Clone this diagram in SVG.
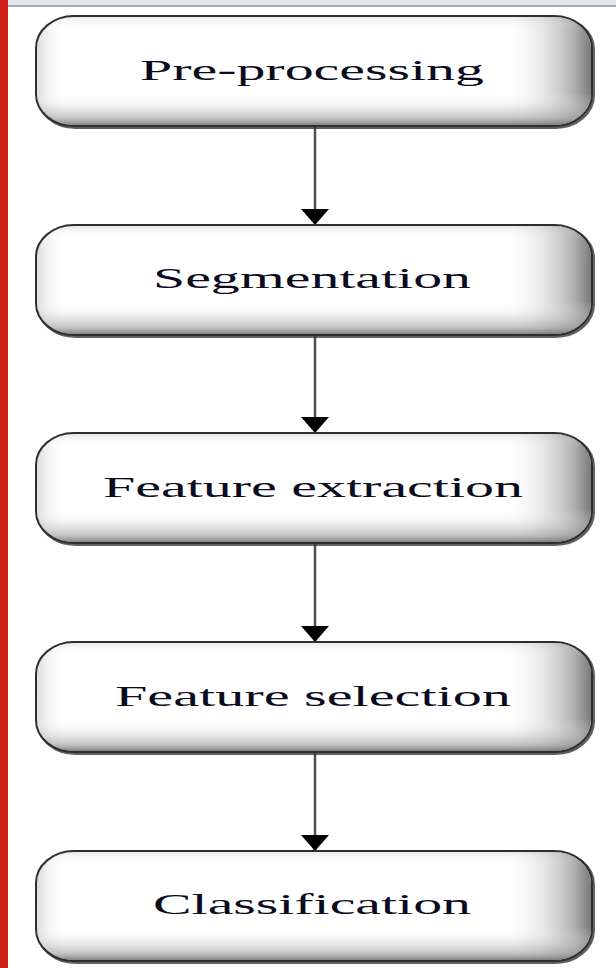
<svg xmlns="http://www.w3.org/2000/svg" width="616" height="968" viewBox="0 0 616 968">
  <style>
    .frame { fill: #ffffff; stroke: #2e2e2e; stroke-width: 2; }
    .shadow { fill: none; stroke: #3a3a3a; stroke-width: 3; opacity: 0.8; }
    .shade-x { fill: url(#shadeX); stroke: none; }
    .shade-y { fill: url(#shadeY); stroke: none; }
    .label { font-family: "Liberation Serif", "Times New Roman", serif; font-size: 30px; fill: #0b0b1e; }
    .link { stroke: #505050; stroke-width: 2.5; fill: none; }
  </style>
  <defs>
    <linearGradient id="shadeX" x1="0" y1="0" x2="1" y2="0">
      <stop offset="0" stop-color="#8a8a8a" stop-opacity="0.3"/>
      <stop offset="0.05" stop-color="#ffffff" stop-opacity="0"/>
      <stop offset="0.84" stop-color="#ffffff" stop-opacity="0"/>
      <stop offset="0.97" stop-color="#8c8c8c" stop-opacity="0.7"/>
      <stop offset="1" stop-color="#6a6a6a" stop-opacity="0.9"/>
    </linearGradient>
    <linearGradient id="shadeY" x1="0" y1="0" x2="0" y2="1">
      <stop offset="0" stop-color="#9a9a9a" stop-opacity="0.2"/>
      <stop offset="0.12" stop-color="#ffffff" stop-opacity="0"/>
      <stop offset="0.7" stop-color="#ffffff" stop-opacity="0"/>
      <stop offset="0.94" stop-color="#9a9a9a" stop-opacity="0.6"/>
      <stop offset="1" stop-color="#6e6e6e" stop-opacity="0.85"/>
    </linearGradient>
    <!-- wide, short arrowhead -->
    <marker id="head" viewBox="0 0 16 28" refX="16" refY="14" markerWidth="16" markerHeight="28" markerUnits="userSpaceOnUse" orient="auto">
      <path d="M0,0 L16,14 L0,28 Z" fill="#000000"/>
    </marker>
  </defs>

  <!-- page background and window chrome -->
  <rect x="0" y="0" width="616" height="968" fill="#ffffff"/>
  <rect x="0" y="0" width="616" height="5" fill="#dfe6ef"/>
  <rect x="0" y="5" width="616" height="2" fill="#a9a9a9"/>
  <rect x="0" y="0" width="8" height="968" fill="#cf2115"/>

  <!-- connectors -->
  <g id="connectors">
    <line class="link" x1="315" y1="127" x2="315" y2="225" marker-end="url(#head)"/>
    <line class="link" x1="315" y1="336" x2="315" y2="433" marker-end="url(#head)"/>
    <line class="link" x1="315" y1="544" x2="315" y2="642" marker-end="url(#head)"/>
    <line class="link" x1="315" y1="753" x2="315" y2="851" marker-end="url(#head)"/>
  </g>

  <g id="preprocessing">
    <rect class="shadow" x="37.5" y="17.5" width="556" height="110" rx="38" ry="32"/>
    <rect class="frame" x="36" y="16" width="556" height="110" rx="38" ry="32"/>
    <rect class="shade-x" x="37" y="17" width="554" height="108" rx="37" ry="31"/>
    <rect class="shade-y" x="37" y="17" width="554" height="108" rx="37" ry="31"/>
    <text class="label" x="140" y="80" textLength="344" lengthAdjust="spacingAndGlyphs">Pre-processing</text>
  </g>

  <g id="segmentation">
    <rect class="shadow" x="37.5" y="226.5" width="556" height="110" rx="38" ry="32"/>
    <rect class="frame" x="36" y="225" width="556" height="110" rx="38" ry="32"/>
    <rect class="shade-x" x="37" y="226" width="554" height="108" rx="37" ry="31"/>
    <rect class="shade-y" x="37" y="226" width="554" height="108" rx="37" ry="31"/>
    <text class="label" x="153" y="288" textLength="318" lengthAdjust="spacingAndGlyphs">Segmentation</text>
  </g>

  <g id="feature-extraction">
    <rect class="shadow" x="37.5" y="434.5" width="556" height="110" rx="38" ry="32"/>
    <rect class="frame" x="36" y="433" width="556" height="110" rx="38" ry="32"/>
    <rect class="shade-x" x="37" y="434" width="554" height="108" rx="37" ry="31"/>
    <rect class="shade-y" x="37" y="434" width="554" height="108" rx="37" ry="31"/>
    <text class="label" x="103" y="497" textLength="420" lengthAdjust="spacingAndGlyphs">Feature extraction</text>
  </g>

  <g id="feature-selection">
    <rect class="shadow" x="37.5" y="643.5" width="556" height="110" rx="38" ry="32"/>
    <rect class="frame" x="36" y="642" width="556" height="110" rx="38" ry="32"/>
    <rect class="shade-x" x="37" y="643" width="554" height="108" rx="37" ry="31"/>
    <rect class="shade-y" x="37" y="643" width="554" height="108" rx="37" ry="31"/>
    <text class="label" x="115" y="706" textLength="396" lengthAdjust="spacingAndGlyphs">Feature selection</text>
  </g>

  <g id="classification">
    <rect class="shadow" x="37.5" y="852.5" width="556" height="110" rx="38" ry="32"/>
    <rect class="frame" x="36" y="851" width="556" height="110" rx="38" ry="32"/>
    <rect class="shade-x" x="37" y="852" width="554" height="108" rx="37" ry="31"/>
    <rect class="shade-y" x="37" y="852" width="554" height="108" rx="37" ry="31"/>
    <text class="label" x="153" y="914" textLength="318" lengthAdjust="spacingAndGlyphs">Classification</text>
  </g>
</svg>
